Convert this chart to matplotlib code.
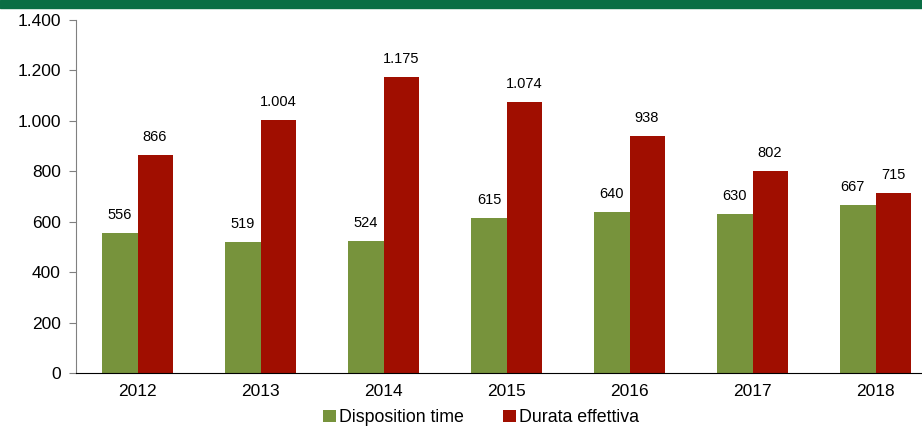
import matplotlib.pyplot as plt
import numpy as np

years = ["2012", "2013", "2014", "2015", "2016", "2017", "2018"]
disposition_time = [556, 519, 524, 615, 640, 630, 667]
durata_effettiva = [866, 1004, 1175, 1074, 938, 802, 715]


def fmt_it(v):
    return f"{v:,.0f}".replace(",", ".")


plt.rcParams["font.family"] = ["Liberation Sans", "DejaVu Sans"]

fig = plt.figure(figsize=(9.22, 4.30), dpi=100)
# green header band (title cut off in the original)
fig.patches.append(plt.Rectangle((0, 1 - 8 / 430), 1, 8 / 430, transform=fig.transFigure,
                                 color="#0a6e45", zorder=0))

ax = fig.add_axes([76 / 922, 1 - 373 / 430, 1 - 76 / 922, 353 / 430])
x = np.arange(len(years))
w = 0.285
green = "#77933c"
red = "#a00e00"
ax.bar(x - w / 2, disposition_time, w, color=green, label="Disposition time")
ax.bar(x + w / 2, durata_effettiva, w, color=red, label="Durata effettiva")

for i, (xi, g, r) in enumerate(zip(x, disposition_time, durata_effettiva)):
    dx = -4 if i == len(x) - 1 else 0
    ax.annotate(fmt_it(g), (xi - w / 2, g), xytext=(dx, 8), textcoords="offset points",
                ha="center", va="bottom", fontsize=10.5)
    ax.annotate(fmt_it(r), (xi + w / 2, r), xytext=(0, 8), textcoords="offset points",
                ha="center", va="bottom", fontsize=10.5)

ax.set_ylim(0, 1400)
ax.set_yticks(range(0, 1401, 200))
ax.set_yticklabels([fmt_it(v) for v in range(0, 1401, 200)], fontsize=12.5)
ax.set_xlim(-0.5, 6.5 - 15 / 123)
ax.set_xticks(x)
ax.set_xticklabels(years, fontsize=12.5)
ax.tick_params(axis="x", length=0, pad=8)
ax.tick_params(axis="y", length=5, color="#808080", pad=6)
for s in ["top", "right"]:
    ax.spines[s].set_visible(False)
ax.spines["left"].set_color("#808080")
ax.spines["bottom"].set_color("black")

fig.legend(loc="lower center", bbox_to_anchor=(0.522, -0.028), ncol=2, frameon=False,
           fontsize=12.8, handlelength=0.7, handleheight=0.7, handletextpad=0.2,
           columnspacing=2.2)

fig.savefig("out.png", dpi=100)
